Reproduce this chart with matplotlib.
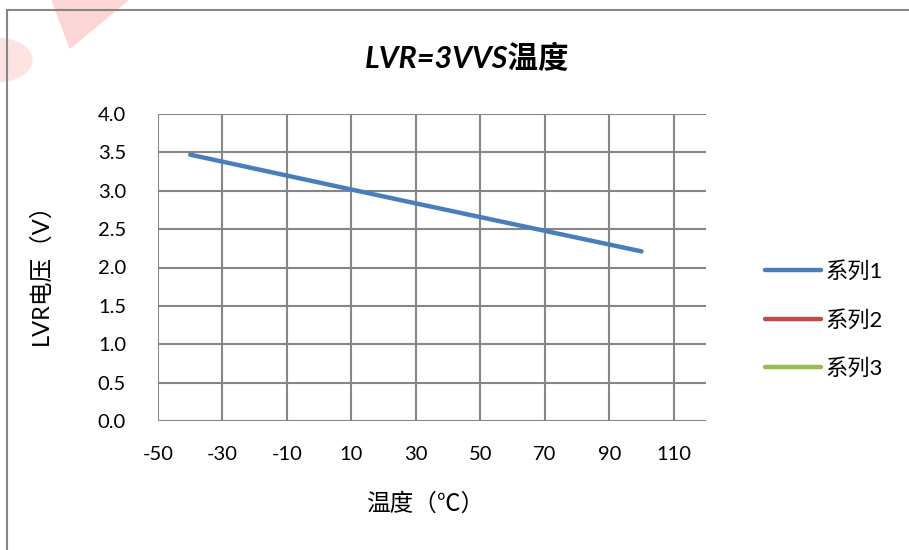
import matplotlib.pyplot as plt
from matplotlib.patches import Rectangle, Circle, Polygon

plt.rcParams['font.family'] = ['Lato', 'Noto Sans CJK SC', 'DejaVu Sans']

temps = [-40, 25, 100]
lvr_1 = [3.47, 2.88, 2.21]
series_names = ['系列1', '系列2', '系列3']
colors = ['#4a7ebb', '#be4b48', '#98b954']
x_ticks = [-50, -30, -10, 10, 30, 50, 70, 90, 110]
y_ticks = [0.0, 0.5, 1.0, 1.5, 2.0, 2.5, 3.0, 3.5, 4.0]

W, H = 909, 550
fig = plt.figure(figsize=(W / 100, H / 100), dpi=100)

# faint red watermark in the top-left corner
fig.patches.append(Circle((-4 / W, 1 - 60 / H), 36 / W, transform=fig.transFigure,
                          color='#fde2e2', zorder=0))
fig.patches.append(Polygon([(52 / W, 1 - 0 / H), (128 / W, 1 - 0 / H), (70 / W, 1 - 48 / H)],
                           closed=True, transform=fig.transFigure,
                           color='#fcd6d6', zorder=0))

# chart border
fig.patches.append(Rectangle((7 / W, -0.05), 1.1, 1 - 10 / H + 0.05, transform=fig.transFigure,
                             fill=False, edgecolor='#868686', linewidth=1.5, zorder=1))

ax = fig.add_axes([158 / W, 1 - 421 / H, (706 - 158) / W, (421 - 114) / H])
ax.set_xlim(-50, 120)
ax.set_ylim(0, 4)
ax.set_xticks(x_ticks)
ax.set_yticks(y_ticks)
ax.set_xticklabels([str(t) for t in x_ticks])
ax.set_yticklabels([f'{t:.1f}' for t in y_ticks])
ax.grid(True, color='#868686', linewidth=1.5)
ax.set_axisbelow(True)
for s in ax.spines.values():
    s.set_visible(False)
ax.tick_params(length=0, labelsize=14.5)
ax.tick_params(axis='y', pad=23)
ax.tick_params(axis='x', pad=18)

ax.plot(temps, lvr_1, color=colors[0], linewidth=3.2, solid_capstyle='round',
        label=series_names[0])
ax.plot([], [], color=colors[1], linewidth=3.2, solid_capstyle='round', label=series_names[1])
ax.plot([], [], color=colors[2], linewidth=3.2, solid_capstyle='round', label=series_names[2])

fig.legend(loc='center left', bbox_to_anchor=(745 / W, 1 - 320 / H), frameon=False,
           fontsize=16, handlelength=2.5, handletextpad=0.2, labelspacing=1.25)

fig.text(467 / W, 1 - 58 / H, 'LVR=3VVS温度', ha='center', va='center',
         fontsize=22, fontweight='bold', fontstyle='italic')
fig.text(40 / W, 1 - 268 / H, 'LVR电压（V）', ha='center', va='center',
         rotation=90, fontsize=17)
fig.text(425 / W, 1 - 503 / H, '温度（℃）', ha='center', va='center', fontsize=17)

fig.savefig('out.png', dpi=100)
